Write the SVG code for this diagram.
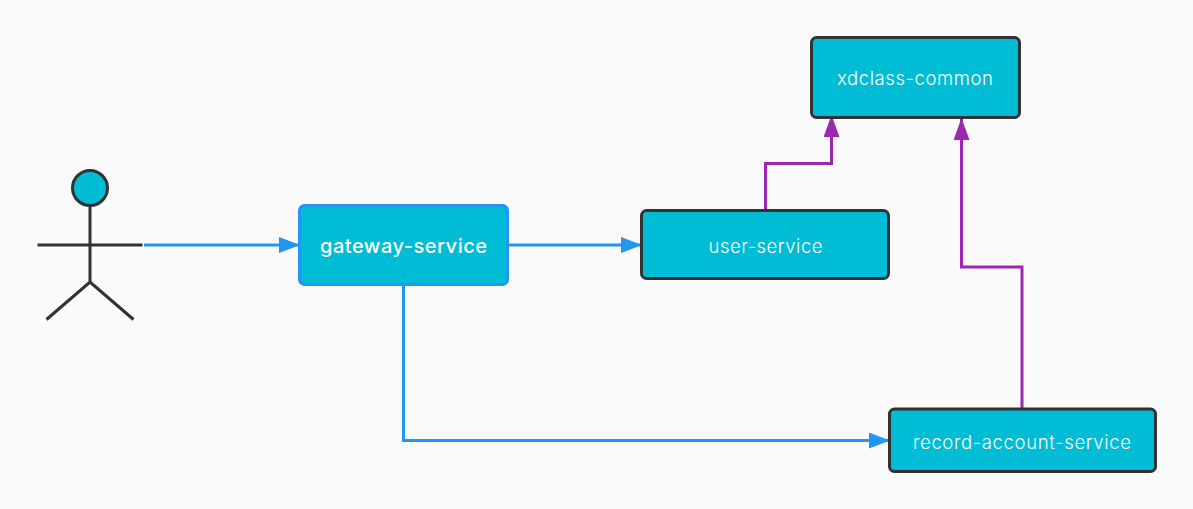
<svg xmlns="http://www.w3.org/2000/svg" width="1193" height="509" viewBox="0 0 1193 509">
<style>
.box{fill:#00bcd4;stroke:#323232;stroke-width:3}
.t{font-family:Inter,"Noto Sans","Liberation Sans",sans-serif;font-size:18.500px;font-weight:300;fill:#fff;text-anchor:middle}
.blue{fill:none;stroke:#2196f3;stroke-width:3}
.purple{fill:none;stroke:#9c27b0;stroke-width:3}
.limb{fill:none;stroke:#323232;stroke-width:3}
</style>
<defs>
<marker id="ab" markerUnits="userSpaceOnUse" markerWidth="21" markerHeight="16" refX="21" refY="8" orient="auto"><path d="M0 0L21 8L0 16Z" fill="#2196f3"/></marker>
<marker id="ap" markerUnits="userSpaceOnUse" markerWidth="22" markerHeight="16" refX="22" refY="8" orient="auto"><path d="M0 0L22 8L0 16Z" fill="#9c27b0"/></marker>
</defs>
<rect width="1193" height="509" fill="#fafafa"/>
<g id="connectors">
<path class="blue" d="M144 245H300" marker-end="url(#ab)"/>
<path class="blue" d="M508 245H642" marker-end="url(#ab)"/>
<path class="blue" d="M403.500 285V440.500H890" marker-end="url(#ab)"/>
<path class="purple" d="M765.500 210V163.500H831.500V115" marker-end="url(#ap)"/>
<path class="purple" d="M1022 408V267H961.500V118" marker-end="url(#ap)"/>
</g>
<g id="actor">
<circle cx="90" cy="188" r="17.500" fill="#00bcd4" stroke="#323232" stroke-width="3"/>
<path class="limb" d="M90 206V282M37.500 245H142.500M46.500 319.500L90 282L133.500 319.500"/>
</g>
<g id="gateway-service">
<rect x="299.500" y="205.500" width="208" height="79" rx="5" fill="#00bcd4" stroke="#2196f3" stroke-width="3"/>
<text class="t" x="403.500" y="253" textLength="167" style="font-size:20px;font-weight:500">gateway-service</text>
</g>
<g id="user-service">
<rect class="box" x="641.500" y="210.500" width="247" height="68" rx="5"/>
<text class="t" x="765.500" y="252.500" textLength="114">user-service</text>
</g>
<g id="xdclass-common">
<rect class="box" x="811.500" y="37.500" width="208" height="80" rx="5"/>
<text class="t" x="915" y="84.500" textLength="156">xdclass-common</text>
</g>
<g id="record-account-service">
<rect class="box" x="889.500" y="409" width="266" height="62.500" rx="5"/>
<text class="t" x="1022" y="448.500" textLength="218">record-account-service</text>
</g>
</svg>
